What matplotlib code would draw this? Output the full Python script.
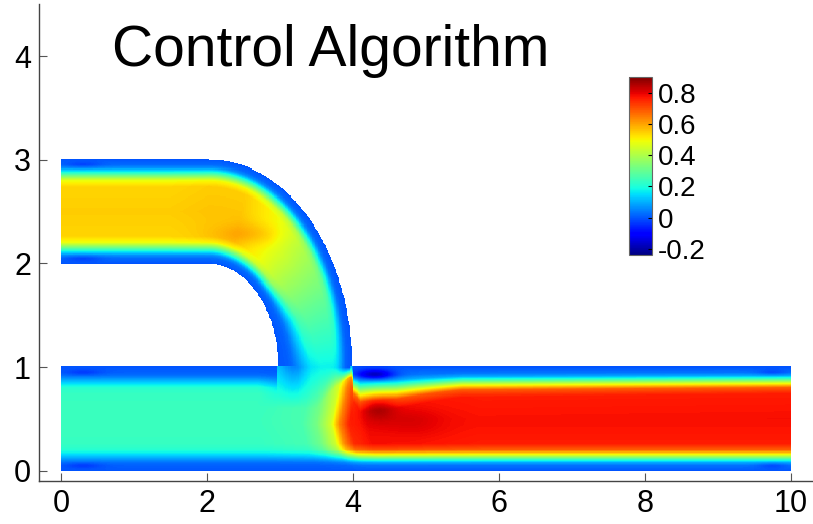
import numpy as np
import matplotlib
matplotlib.use("Agg")
import matplotlib.pyplot as plt

# colour range and ticks
c_min, c_max = -0.24, 0.9
cbar_ticks = [-0.2, 0, 0.2, 0.4, 0.6, 0.8]
cbar_labels = ["-0.2", "0", "0.2", "0.4", "0.6", "0.8"]
x_ticks = [0, 2, 4, 6, 8, 10]
y_ticks = [0, 1, 2, 3, 4]

# value at the walls and how fast it rises to the core value
wall_val = 0.0
wall_dist = [0, 0.05, 0.08, 0.11, 0.15, 0.2, 0.26, 0.5]
wall_frac = [0, 0.04, 0.12, 0.3, 0.57, 0.88, 0.98, 1.0]

# lower channel: mixing front position and core value past the front
front_y = [0, 0.2, 0.45, 0.8, 1.0]
front_x = [3.95, 3.78, 3.7, 3.8, 3.9]
core_xi = [-10, -1.0, -0.4, -0.2, 0, 0.12, 0.25, 0.5, 1.2, 2.0, 10]
core_low = [0.24, 0.24, 0.26, 0.32, 0.45, 0.64, 0.76, 0.8, 0.79, 0.78, 0.78]

# thicker top layer just after the step
top_x = [0, 3.9, 4.1, 4.6, 5.5, 10]
top_scale = [1, 1, 0.6, 0.65, 0.9, 1]

# top of the lower channel is open where the bend comes in
open_x = [2.95, 3.05, 3.9, 4.0]
open_w = [0, 1, 1, 0]
mix_x = [2.7, 3.25, 3.95, 4.05]
mix_w = [0, 1, 1, 0]
mix_y0_x = [3.0, 3.5, 3.75, 3.95]
mix_y0 = [0.6, 0.6, 0.8, 0.9]

# upper inlet and bend (angle 0 = top of bend, pi/2 = bottom)
inlet_x = [0, 1.5, 2.02]
inlet_core = [0.55, 0.55, 0.56]
bend_a = [0, 0.3, 0.6, 0.9, 1.2, 1.45, 1.571]
bend_core = [0.56, 0.56, 0.5, 0.4, 0.3, 0.22, 0.18]
inner_a = [0, 0.8, 1.2, 1.571]
inner_k = [1, 1, 0.6, 0.45]

# local spots: centre, spread, amplitude
spot_x = [4.35, 4.8, 4.3, 2.55, 0.3, 0.3, 0.3, 0.3, 9.75, 9.75]
spot_y = [0.6, 0.48, 0.93, 2.28, 0.05, 0.95, 2.05, 2.95, 0.05, 0.95]
spot_sx = [0.22, 0.4, 0.25, 0.45, 0.25, 0.25, 0.25, 0.25, 0.2, 0.2]
spot_sy = [0.12, 0.12, 0.05, 0.1, 0.03, 0.03, 0.03, 0.03, 0.03, 0.03]
spot_amp = [0.07, 0.03, -0.2, 0.05, -0.04, -0.04, -0.04, -0.04, -0.04, -0.04]


def wallf(d):
    return np.interp(d, wall_dist, wall_frac)


xs = np.arange(0, 10.0001, 0.01)
ys = np.arange(0, 3.0001, 0.01)
X, Y = np.meshgrid(xs, ys)

# lower channel
xt = np.interp(Y, front_y, front_x)
core = np.interp(X - xt, core_xi, core_low)
d_top = (1 - Y) * np.interp(X, top_x, top_scale) + np.interp(X, open_x, open_w)
L = wall_val + (core - wall_val) * wallf(Y) * wallf(d_top)

# inlet + bend, shared elliptic coordinates
u = np.clip((X - 2.02) / 0.975, 0, None)
v = np.clip(Y - 1, 0, None)
r = np.where(Y < 1, u, np.hypot(u, v))
ang = np.where(Y < 1, np.pi / 2, np.arctan2(u, v))
bcore = np.interp(ang, bend_a, bend_core)
bcore = np.where(X <= 2.02, np.interp(X, inlet_x, inlet_core), bcore)
d_in = (r - 1) * np.interp(ang, inner_a, inner_k)
d_out = 2 - r
U = wall_val + (bcore - wall_val) * wallf(d_in) * wallf(d_out)

# merge bend flow into the lower channel below the junction
y0 = np.interp(X, mix_y0_x, mix_y0)
w = np.clip((Y - y0) / (1 - y0), 0, 1) * np.interp(X, mix_x, mix_w)
low = (1 - w) * L + w * U
Z = np.where(Y <= 1, low, U)

for cx, cy, sx, sy, a in zip(spot_x, spot_y, spot_sx, spot_sy, spot_amp):
    Z = Z + a * np.exp(-((X - cx) / sx) ** 2 - ((Y - cy) / sy) ** 2)

# domain
in_low = Y <= 1
in_inlet = (X <= 2.02) & (Y >= 2)
outside_inner = ((X - 2.0) / 0.98) ** 2 + (Y - 1) ** 2 > 1
inside_outer = ((X - 2.04) / 1.95) ** 2 + ((Y - 1) / 2) ** 2 <= 1
in_bend = (X >= 2.0) & (Y >= 1) & outside_inner & inside_outer
domain = in_low | in_inlet | in_bend
Zm = np.ma.masked_where(~domain, Z)

fig = plt.figure(figsize=(8.13, 5.24), dpi=100)
ax = fig.add_axes([0.0483, 0.082, 0.951, 0.910])
mesh = ax.pcolormesh(X, Y, Zm, cmap="jet", vmin=c_min, vmax=c_max,
                     shading="nearest", rasterized=True)
ax.set_xlim(-0.3, 10.3)
ax.set_ylim(-0.1, 4.5)
ax.set_xticks(x_ticks)
ax.set_yticks(y_ticks)
ax.spines["top"].set_visible(False)
ax.spines["right"].set_visible(False)
for s in ["left", "bottom"]:
    ax.spines[s].set_color("#444444")
    ax.spines[s].set_linewidth(1.0)
ax.tick_params(direction="in", length=6, width=0.8, color="#555555",
               labelsize=22, pad=6)
for lab in ax.get_xticklabels() + ax.get_yticklabels():
    lab.set_family("Liberation Sans")

ax.text(0.7, 3.9, "Control Algorithm", fontsize=41, family="Liberation Sans",
        ha="left", va="baseline")

cax = fig.add_axes([0.774, 0.513, 0.0283, 0.340])
cb = fig.colorbar(mesh, cax=cax, ticks=cbar_ticks)
cb.ax.set_yticklabels(cbar_labels)
cb.outline.set_linewidth(0.8)
cb.outline.set_edgecolor("#666666")
cb.ax.tick_params(direction="in", length=3, width=0.8, labelsize=20, pad=4)
for lab in cb.ax.get_yticklabels():
    lab.set_family("Liberation Sans")

fig.savefig("out.png", dpi=100)
